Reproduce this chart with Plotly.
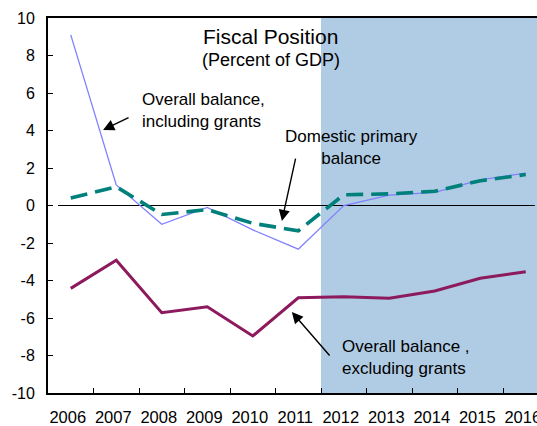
import plotly.graph_objects as go

years = ["2006", "2007", "2008", "2009", "2010", "2011",
         "2012", "2013", "2014", "2015", "2016"]
incl_grants = [9.1, 1.1, -1.0, -0.1, -1.3, -2.33, 0.0, 0.55, 0.7, 1.37, 1.73]
domestic_primary = [0.4, 1.0, -0.48, -0.22, -0.95, -1.35, 0.57, 0.62, 0.76, 1.32, 1.65]
excl_grants = [-4.42, -2.92, -5.72, -5.4, -6.96, -4.92, -4.86, -4.95, -4.56, -3.88, -3.53]
y_ticks = [-10, -8, -6, -4, -2, 0, 2, 4, 6, 8, 10]

FONT = "Liberation Sans, Arial, sans-serif"

fig = go.Figure()

fig.add_trace(go.Scatter(x=years, y=incl_grants, mode="lines",
                         line=dict(color="#8080FF", width=1.3)))
fig.add_trace(go.Scatter(x=years, y=domestic_primary, mode="lines",
                         line=dict(color="#00807A", width=3.6, dash="17px,8px")))
fig.add_trace(go.Scatter(x=years, y=excl_grants, mode="lines",
                         line=dict(color="#8C1A5C", width=3)))

# projection period shading and zero reference line
fig.add_shape(type="rect", xref="x", yref="y", x0=5.5, x1=11, y0=-10, y1=10,
              fillcolor="#B0CCE4", line=dict(width=0), layer="below")
fig.add_shape(type="line", xref="x", yref="y", x0=-0.28, x1=10.2, y0=0, y1=0,
              line=dict(color="black", width=1.2), layer="below")

txt = dict(family=FONT, size=17, color="black")

# titles
fig.add_annotation(x=4.40, y=9.04, xref="x", yref="y", text="Fiscal Position",
                   showarrow=False, font=dict(family=FONT, size=21, color="black"))
fig.add_annotation(x=4.40, y=7.76, xref="x", yref="y", text="(Percent of GDP)",
                   showarrow=False, font=dict(family=FONT, size=18, color="black"))

# series labels
fig.add_annotation(x=1.52, y=5.09, xref="x", yref="y",
                   text="Overall balance,<br>including grants", showarrow=False,
                   xanchor="left", align="left", font=txt)
fig.add_annotation(x=6.16, y=3.07, xref="x", yref="y",
                   text="Domestic primary<br>balance", showarrow=False,
                   xanchor="center", align="center", font=txt)
fig.add_annotation(x=5.92, y=-8.13, xref="x", yref="y",
                   text="Overall balance ,<br>excluding grants", showarrow=False,
                   xanchor="left", align="left", font=txt)

# pointer arrows
arrow = dict(text="", showarrow=True, arrowhead=2, arrowsize=1.6, arrowwidth=1.4,
             arrowcolor="black", xref="x", yref="y")
fig.add_annotation(x=0.71, y=4.03, ax=27, ay=-13, **arrow)
fig.add_annotation(x=4.64, y=-0.83, ax=14, ay=-64, **arrow)
fig.add_annotation(x=4.86, y=-5.68, ax=39, ay=45, **arrow)

fig.update_layout(
    width=537, height=426,
    margin=dict(l=48, r=0, t=18, b=33),
    paper_bgcolor="white", plot_bgcolor="white",
    showlegend=False,
    font=dict(family=FONT, size=16, color="black"),
)
fig.update_xaxes(
    type="category", range=[-0.5, 10.247], automargin=False, tickangle=0,
    tickson="boundaries", ticks="inside", ticklen=5, tickcolor="black", tickwidth=1.2,
    showline=True, linecolor="black", linewidth=2, mirror=True,
    showgrid=False, zeroline=False, ticklabelstandoff=8, ticklabelshift=-3,
    tickfont=dict(family=FONT, size=16.5, color="black"),
)
fig.update_yaxes(
    range=[-10, 10], tickvals=y_ticks, ticktext=[str(v) for v in y_ticks],
    automargin=False,
    ticks="inside", ticklen=5, tickcolor="black", tickwidth=1.2,
    showline=True, linecolor="black", linewidth=2,
    showgrid=False, zeroline=False, ticklabelstandoff=8,
    tickfont=dict(family=FONT, size=16, color="black"),
)

fig.write_html("out.html")
